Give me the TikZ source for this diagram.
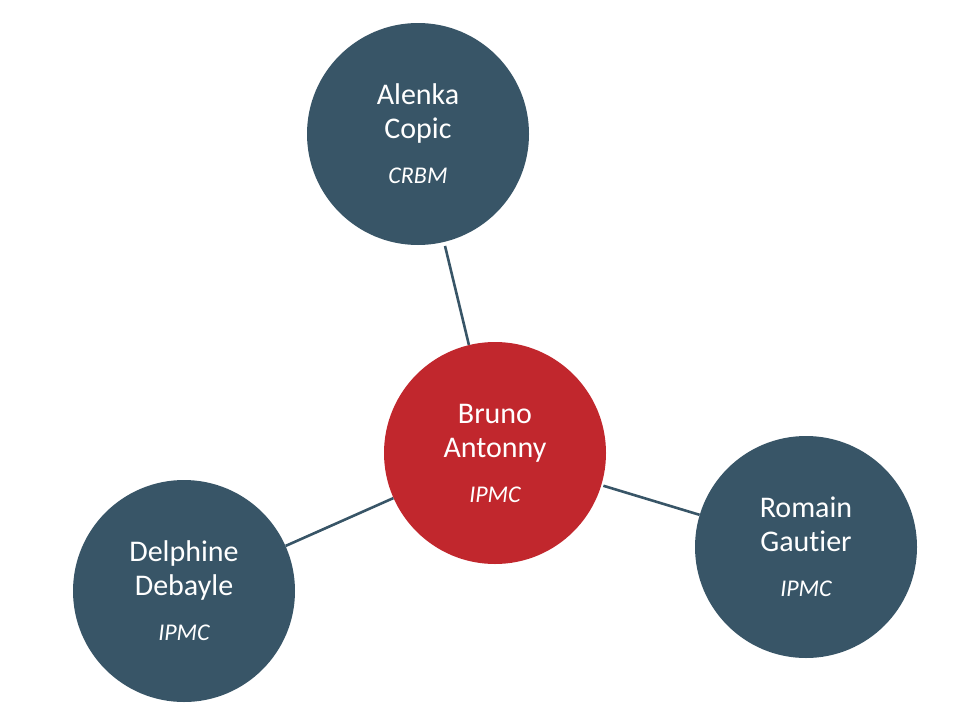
\documentclass[tikz,border=0pt]{standalone}
\usepackage{fontspec}
\setmainfont[RawFeature=-liga]{Carlito}
\definecolor{slate}{HTML}{385567}
\definecolor{crimson}{HTML}{C1272D}
\tikzset{
  person/.style={circle, minimum size=222pt, inner sep=0pt, fill=slate, text=white,
    align=center, font=\fontsize{30}{34}\selectfont},
  central/.style={person, fill=crimson},
  link/.style={draw=slate, line width=2.6pt}
}
\newcommand{\aff}[1]{{\fontsize{24}{29}\selectfont\itshape #1}}
\begin{document}
\begin{tikzpicture}[x=1pt,y=-1pt]
\useasboundingbox (0,0) rectangle (960,720);
\node[person]  (alenka)   at (418,134) {Alenka\\Copic\\[11pt]\aff{CRBM}};
\node[central] (bruno)    at (495,453) {Bruno\\Antonny\\[11pt]\aff{IPMC}};
\node[person]  (romain)   at (806,547) {Romain\\Gautier\\[11pt]\aff{IPMC}};
\node[person]  (delphine) at (184,591) {Delphine\\Debayle\\[11pt]\aff{IPMC}};
\draw[link, shorten <=4pt] (alenka) -- (bruno);
\draw[link, shorten <=2pt] (bruno) -- (romain);
\draw[link] (bruno) -- (delphine);
\end{tikzpicture}
\end{document}
